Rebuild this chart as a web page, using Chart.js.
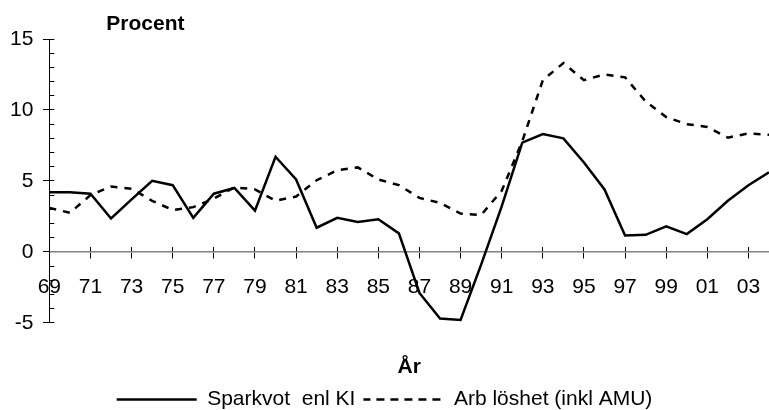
<!DOCTYPE html>
<html>
<head>
<meta charset="utf-8">
<script src="https://cdn.jsdelivr.net/npm/chart.js@4/dist/chart.umd.min.js"></script>
<style>
  html, body { margin: 0; padding: 0; background: #fff; }
</style>
</head>
<body>
<canvas id="chart" width="769" height="410"></canvas>
<script>
// years 1969-2004
var years = ['69','70','71','72','73','74','75','76','77','78','79','80','81','82','83','84','85','86',
             '87','88','89','90','91','92','93','94','95','96','97','98','99','00','01','02','03','04'];

var sparkvot = [4.2, 4.2, 4.1, 2.35, 3.7, 5.0, 4.7, 2.4, 4.1, 4.5, 2.9, 6.7, 5.1, 1.7, 2.4, 2.1, 2.3, 1.3,
                -2.9, -4.7, -4.8, -0.9, 3.2, 7.7, 8.3, 8.0, 6.3, 4.4, 1.15, 1.2, 1.8, 1.25, 2.3, 3.6, 4.7, 5.6];

var arbloshet = [3.1, 2.75, 4.0, 4.6, 4.45, 3.6, 2.95, 3.15, 3.75, 4.55, 4.4, 3.6, 3.9, 5.05, 5.75, 5.95, 5.1, 4.7,
                 3.8, 3.45, 2.7, 2.6, 4.3, 7.8, 12.1, 13.3, 12.1, 12.5, 12.3, 10.6, 9.5, 9.0, 8.8, 8.05, 8.35, 8.25];

var yTicks = [-5,-4,-3,-2,-1,0,1,2,3,4,5,6,7,8,9,10,11,12,13,14,15];
var yMajorTicks = [-5, 0, 5, 10, 15];

var FONT = "'Liberation Sans', Arial, sans-serif";

// "Procent" label above the y axis
var procentLabel = {
    id: 'procentLabel',
    afterDraw: function(chart) {
        var ctx = chart.ctx;
        ctx.save();
        ctx.font = 'bold 21px ' + FONT;
        ctx.fillStyle = '#000';
        ctx.textAlign = 'center';
        ctx.textBaseline = 'alphabetic';
        ctx.fillText('Procent', chart.chartArea.left + 96, 30);
        ctx.restore();
    }
};

function everyOtherTick(c) { return c.index % 2 ? 'rgba(0,0,0,0)' : '#000'; }

var ctx = document.getElementById('chart');

var chart = new Chart(ctx, {
    type: 'line',
    data: {
        labels: years,
        datasets: [
            {
                label: 'Sparkvot  enl KI',
                data: sparkvot,
                borderColor: '#000',
                backgroundColor: '#000',
                borderWidth: 2.5,
                pointRadius: 0,
                tension: 0,
                fill: false
            },
            {
                label: 'Arb löshet (inkl AMU)',
                data: arbloshet,
                borderColor: '#000',
                backgroundColor: '#000',
                borderWidth: 2.5,
                borderDash: [7, 7],
                pointRadius: 0,
                tension: 0,
                fill: false
            }
        ]
    },
    options: {
        responsive: false,
        animation: false,
        layout: { padding: { top: 39, left: -11, right: -11, bottom: -10 } },
        plugins: {
            tooltip: { enabled: false },
            legend: {
                position: 'bottom',
                labels: {
                    boxWidth: 80,
                    boxHeight: 0,
                    padding: 8,
                    color: '#000',
                    font: { family: FONT, size: 21 }
                }
            }
        },
        scales: {
            x: {
                type: 'category',
                position: { y: 0 },
                offset: false,
                grid: {
                    drawOnChartArea: false,
                    tickLength: 6,
                    tickColor: everyOtherTick
                },
                border: { color: '#808080', width: 1.5 },
                ticks: {
                    autoSkip: false,
                    maxRotation: 0,
                    minRotation: 0,
                    padding: 0,
                    color: '#000',
                    font: { family: FONT, size: 21, lineHeight: 2.76 },
                    callback: function(v, i) { return i % 2 ? '' : years[i]; }
                }
            },
            // upper half of the x tick marks
            xUp: {
                type: 'category',
                position: { y: 0 },
                offset: false,
                grid: {
                    drawOnChartArea: false,
                    tickLength: -5,
                    tickColor: everyOtherTick
                },
                border: { display: false },
                ticks: { display: false, autoSkip: false }
            },
            x2: {
                type: 'category',
                position: 'bottom',
                grid: { display: false, drawTicks: false },
                border: { display: false },
                ticks: { display: false },
                title: {
                    display: true,
                    text: 'År',
                    color: '#000',
                    font: { family: FONT, size: 21, weight: 'bold' },
                    padding: { top: 32, bottom: 1 }
                }
            },
            y: {
                min: -5,
                max: 15,
                afterBuildTicks: function(scale) {
                    scale.ticks = yTicks.map(function(v) { return { value: v }; });
                },
                grid: {
                    drawOnChartArea: false,
                    tickLength: -5,
                    tickColor: '#000'
                },
                border: { color: '#000', width: 1 },
                ticks: {
                    autoSkip: false,
                    padding: 21,
                    color: '#000',
                    font: { family: FONT, size: 21 },
                    callback: function(v) { return v % 5 === 0 ? v : ''; }
                }
            },
            // outer half of the major y tick marks
            yMajor: {
                type: 'linear',
                position: { x: 0 },
                min: -5,
                max: 15,
                afterBuildTicks: function(scale) {
                    scale.ticks = yMajorTicks.map(function(v) { return { value: v }; });
                },
                grid: {
                    drawOnChartArea: false,
                    tickLength: 6,
                    tickColor: '#000'
                },
                border: { display: false },
                ticks: { display: false }
            }
        }
    },
    plugins: [procentLabel]
});
</script>
</body>
</html>
